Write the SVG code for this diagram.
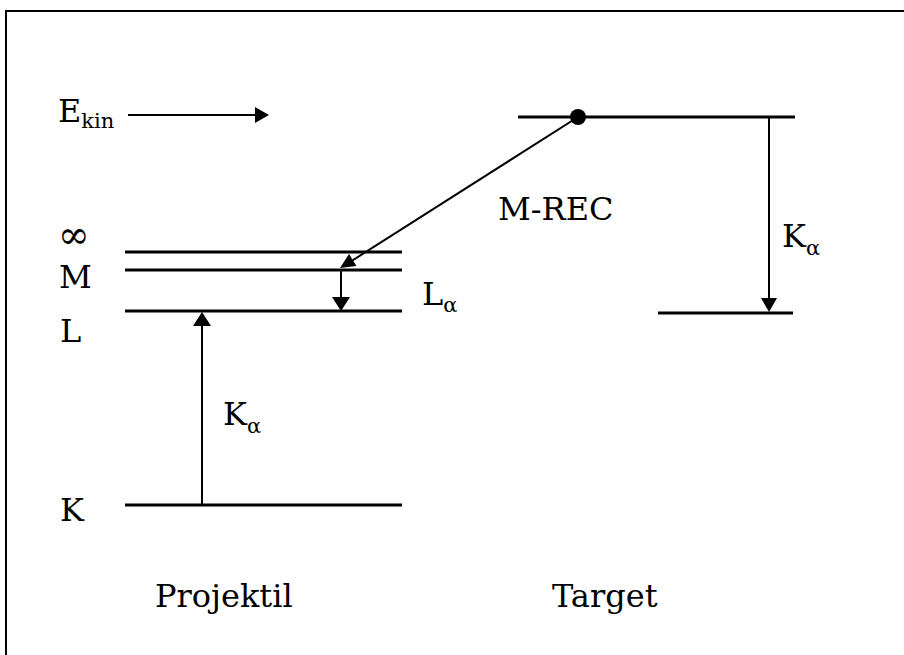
<svg xmlns="http://www.w3.org/2000/svg" width="904" height="655" viewBox="0 0 904 655">
<style>
text{font-family:'DejaVu Serif','Liberation Serif','Times New Roman',serif;font-size:32px;fill:#000}
tspan.s{font-size:21px}
.lvl{stroke:#000;stroke-width:3;fill:none}
.arr{stroke:#000;stroke-width:2;fill:none}
</style>
<rect x="6" y="11" width="920" height="670" fill="#fff" stroke="#000" stroke-width="2"/>
<g id="ekin">
<text x="58" y="122">E<tspan class="s" dy="6">kin</tspan></text>
</g>
<g id="levels-projektil">
<line class="lvl" x1="125" y1="252" x2="402" y2="252"/>
<line class="lvl" x1="125" y1="270" x2="402" y2="270"/>
<line class="lvl" x1="125" y1="311" x2="402" y2="311"/>
<line class="lvl" x1="125" y1="505" x2="402" y2="505"/>
<text x="58" y="248" style="font-size:38px">∞</text>
<text x="59" y="288">M</text>
<text x="60" y="342">L</text>
<text x="60" y="521">K</text>
<text x="155" y="607">Projektil</text>
</g>
<g id="levels-target">
<line class="lvl" x1="518" y1="117" x2="795" y2="117"/>
<line class="lvl" x1="658" y1="313" x2="793" y2="313"/>
<circle cx="578" cy="117" r="8" fill="#000"/>
<text x="552" y="607">Target</text>
</g>
<g id="connectors">
<line class="arr" x1="128" y1="115" x2="256" y2="115"/>
<polygon points="269,115 255,107 255,123" fill="#000"/>
<line class="arr" x1="578" y1="117" x2="350" y2="262"/>
<polygon points="340,268 356.4,265.9 349,254.1" fill="#000"/>
<line class="arr" x1="341" y1="270" x2="341" y2="298"/>
<polygon points="341,311 332,297 350,297" fill="#000"/>
<line class="arr" x1="202" y1="505" x2="202" y2="325"/>
<polygon points="202,312 193,326 211,326" fill="#000"/>
<line class="arr" x1="769" y1="117" x2="769" y2="300"/>
<polygon points="769,312 761,298 777,298" fill="#000"/>
</g>
<g id="labels">
<text x="498" y="220">M-REC</text>
<text x="422" y="305">L<tspan class="s" dy="7">α</tspan></text>
<text x="223" y="425">K<tspan class="s" dy="8">α</tspan></text>
<text x="782" y="247">K<tspan class="s" dy="8">α</tspan></text>
</g>
</svg>
